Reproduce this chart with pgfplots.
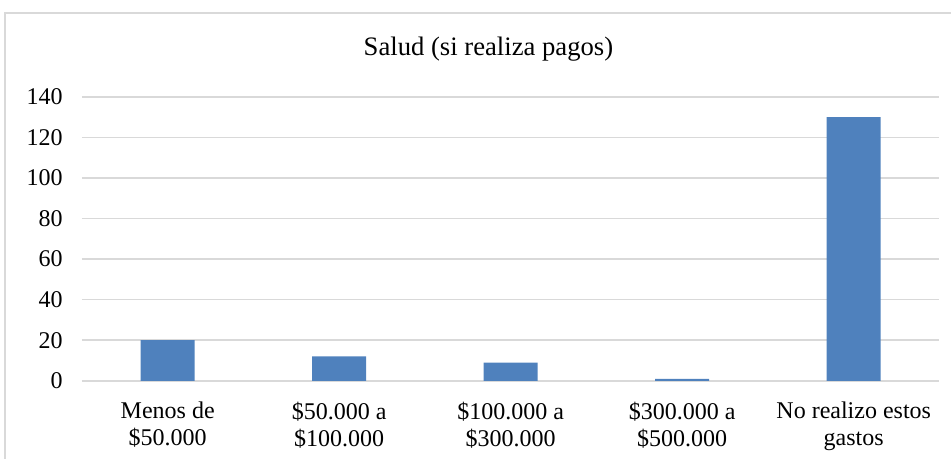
\documentclass[border=0pt]{standalone}
\usepackage{fontspec}
\setmainfont{Liberation Serif}
\usepackage{pgfplots}
\pgfplotsset{compat=1.18}
\definecolor{barblue}{HTML}{4F81BD}
\definecolor{gridgrey}{HTML}{D9D9D9}
\begin{document}
\begin{tikzpicture}
\path (0pt,0pt) rectangle (714pt,344.25pt);
\draw[gridgrey, line width=0.8pt] (3.75pt,0pt) -- (3.75pt,334.5pt) -- (714pt,334.5pt);
\begin{axis}[
  at={(61.5pt,58.5pt)}, anchor=south west,
  scale only axis, width=643.5pt, height=213pt,
  xmin=-0.5, xmax=4.5, ymin=0, ymax=140,
  ytick={0,20,...,140},
  xtick={0,1,2,3,4},
  xticklabels={{Menos de\\\$50.000},{\$50.000 a\\\$100.000},{\$100.000 a\\\$300.000},{\$300.000 a\\\$500.000},{No realizo estos\\gastos}},
  xticklabel style={align=center, font=\fontsize{18}{20}\selectfont, yshift=-12.5pt},
  yticklabel style={font=\fontsize{18}{20}\selectfont, xshift=-11pt},
  /pgf/number format/assume math mode=true,
  major tick length=0pt,
  axis line style={draw=none},
  ymajorgrids, grid style={gridgrey, line width=1.2pt},
  title={Salud (si realiza pagos)},
  title style={at={(axis description cs:0.474,1.142)}, anchor=center, font=\fontsize{20}{24}\selectfont},
  clip=false,
]
\addplot[ybar, bar width=40.5pt, fill=barblue, draw=none] coordinates {(0,20) (1,12) (2,9) (3,1) (4,130)};
\end{axis}
\end{tikzpicture}
\end{document}
